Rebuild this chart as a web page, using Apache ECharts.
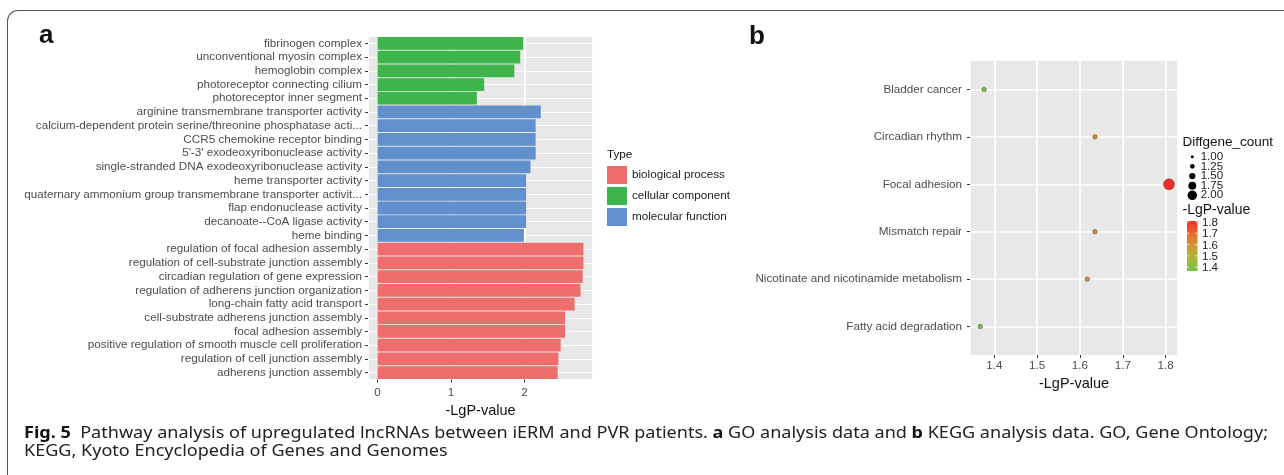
<!DOCTYPE html>
<html><head><meta charset="utf-8">
<script src="https://cdn.jsdelivr.net/npm/echarts@6/dist/echarts.min.js"></script>
<style>html,body{margin:0;padding:0;background:#fff;overflow:hidden;}#wrap{position:relative;width:1284px;height:475px;}#c{width:1284px;height:475px;}
#frame{position:absolute;left:6.5px;top:9.5px;width:1290px;height:500px;border-top:1.5px solid #555;border-left:1.5px solid #555;border-top-left-radius:11px;pointer-events:none;box-sizing:border-box;}</style>
</head><body><div id="wrap"><div id="c"></div><div id="frame"></div></div>
<script>
// ---------- Panel a: GO analysis ----------
const goTerms = [
  'fibrinogen complex',
  'unconventional myosin complex',
  'hemoglobin complex',
  'photoreceptor connecting cilium',
  'photoreceptor inner segment',
  'arginine transmembrane transporter activity',
  'calcium-dependent protein serine/threonine phosphatase acti...',
  'CCR5 chemokine receptor binding',
  "5'-3' exodeoxyribonuclease activity",
  'single-stranded DNA exodeoxyribonuclease activity',
  'heme transporter activity',
  'quaternary ammonium group transmembrane transporter activit...',
  'flap endonuclease activity',
  'decanoate--CoA ligase activity',
  'heme binding',
  'regulation of focal adhesion assembly',
  'regulation of cell-substrate junction assembly',
  'circadian regulation of gene expression',
  'regulation of adherens junction organization',
  'long-chain fatty acid transport',
  'cell-substrate adherens junction assembly',
  'focal adhesion assembly',
  'positive regulation of smooth muscle cell proliferation',
  'regulation of cell junction assembly',
  'adherens junction assembly'
];
const goValues = [1.98, 1.94, 1.86, 1.45, 1.35,
  2.22, 2.15, 2.15, 2.15, 2.08, 2.02, 2.02, 2.02, 2.02, 1.99,
  2.80, 2.80, 2.79, 2.76, 2.68, 2.55, 2.55, 2.49, 2.46, 2.45];
const goTypes = [
  'cellular component','cellular component','cellular component','cellular component','cellular component',
  'molecular function','molecular function','molecular function','molecular function','molecular function',
  'molecular function','molecular function','molecular function','molecular function','molecular function',
  'biological process','biological process','biological process','biological process','biological process',
  'biological process','biological process','biological process','biological process','biological process'
];
const typeNames = ['biological process','cellular component','molecular function'];
const typeColors = ['#EE6E6E','#3DB54A','#6190CC'];
const goTicks = [0, 1, 2];

// ---------- Panel b: KEGG analysis ----------
const keggTerms = ['Bladder cancer','Circadian rhythm','Focal adhesion','Mismatch repair',
  'Nicotinate and nicotinamide metabolism','Fatty acid degradation'];
const keggLgP = [1.376, 1.635, 1.808, 1.635, 1.617, 1.367];
const keggCount = [1, 1, 2, 1, 1, 1];
const keggTicks = [1.4, 1.5, 1.6, 1.7, 1.8];
const sizeLegendValues = [1.00, 1.25, 1.50, 1.75, 2.00];
const colorLegendTicks = [1.8, 1.7, 1.6, 1.5, 1.4];
const gradColors = ['#72C23E', '#A8B83A', '#D09A33', '#E76A2C', '#F22C26'];

// ---------- Caption ----------
const captionLine1 = [
  ['Fig. 5', true],
  ['  Pathway analysis of upregulated lncRNAs between iERM and PVR patients. ', false],
  ['a', true],
  [' GO analysis data and ', false],
  ['b', true],
  [' KEGG analysis data. GO, Gene Ontology;', false]
];
const captionLine2 = 'KEGG, Kyoto Encyclopedia of Genes and Genomes';

const FONT = 'Liberation Sans';
const AX = '#4D4D4D';
const BG = '#E8E8E8';

const chart = echarts.init(document.getElementById('c'), null, {renderer: 'canvas'});

const sizeFn = c => 3 + (c - 1) * 6.5;
const lgMin = Math.min(...keggLgP), lgMax = Math.max(...keggLgP);

// caption scale
const capFont = 'Noto Sans';
const capSize = 16;
const mctx = document.createElement('canvas').getContext('2d');
let capW = 0;
captionLine1.forEach(([t, b]) => {
  mctx.font = (b ? 'bold ' : '') + capSize + 'px "' + capFont + '"';
  capW += mctx.measureText(t).width;
});
const capScale = capW > 0 ? 1244 / capW : 1;
const capText1 = captionLine1.map(([t, b]) => b ? '{b|' + t + '}' : '{r|' + t + '}').join('');

const graphics = [];
graphics.push({type: 'text', x: 39, y: 36, style: {text: 'a', fontFamily: FONT, fontWeight: 'bold', fontSize: 26, fill: '#111', verticalAlign: 'middle'}});
graphics.push({type: 'text', x: 749, y: 37, style: {text: 'b', fontFamily: FONT, fontWeight: 'bold', fontSize: 26, fill: '#111', verticalAlign: 'middle'}});
graphics.push({type: 'text', x: 607, y: 155, style: {text: 'Type', fontFamily: FONT, fontSize: 11.7, fill: '#111', verticalAlign: 'middle'}});
// size legend
graphics.push({type: 'text', x: 1182.5, y: 142.6, style: {text: 'Diffgene_count', fontFamily: FONT, fontSize: 13.5, fill: '#111', verticalAlign: 'middle'}});
sizeLegendValues.forEach((v, i) => {
  const cy = 156.7 + i * 9.65;
  graphics.push({type: 'circle', shape: {cx: 1192.3, cy: cy, r: sizeFn(v) / 2}, style: {fill: '#000'}});
  graphics.push({type: 'text', x: 1200.7, y: cy, style: {text: v.toFixed(2), fontFamily: FONT, fontSize: 11.5, fill: '#222', verticalAlign: 'middle'}});
});
// colour legend
graphics.push({type: 'text', x: 1182.5, y: 210.4, style: {text: '-LgP-value', fontFamily: FONT, fontSize: 14, fill: '#111', verticalAlign: 'middle'}});
const cbTop = 221, cbH = 50, cbX = 1187, cbW = 10.5;
graphics.push({type: 'rect', shape: {x: cbX, y: cbTop, width: cbW, height: cbH},
  style: {fill: {type: 'linear', x: 0, y: 1, x2: 0, y2: 0,
    colorStops: gradColors.map((c, i) => ({offset: i / (gradColors.length - 1), color: c}))}}});
colorLegendTicks.forEach(v => {
  const y = cbTop + (lgMax - v) / (lgMax - lgMin) * cbH;
  graphics.push({type: 'line', shape: {x1: cbX, y1: y, x2: cbX + 2.2, y2: y}, style: {stroke: '#fff', lineWidth: 0.8}});
  graphics.push({type: 'line', shape: {x1: cbX + cbW - 2.2, y1: y, x2: cbX + cbW, y2: y}, style: {stroke: '#fff', lineWidth: 0.8}});
  graphics.push({type: 'text', x: 1202, y: y + 1, style: {text: v.toFixed(1), fontFamily: FONT, fontSize: 11.5, fill: '#222', verticalAlign: 'middle'}});
});
// caption
graphics.push({type: 'text', x: 24, y: 433, scaleX: capScale, style: {
  text: capText1, fontFamily: capFont, fontSize: capSize, fill: '#222', verticalAlign: 'middle',
  rich: {b: {fontFamily: capFont, fontSize: capSize, fontWeight: 'bold', fill: '#111'},
         r: {fontFamily: capFont, fontSize: capSize, fill: '#222'}}}});
graphics.push({type: 'text', x: 24, y: 451.5, scaleX: capScale, style: {
  text: captionLine2, fontFamily: capFont, fontSize: capSize, fill: '#222', verticalAlign: 'middle'}});

const isInt = v => Math.abs(v - Math.round(v)) < 1e-6;

const option = {
  animation: false,
  backgroundColor: '#fff',
  textStyle: {fontFamily: FONT},
  grid: [
    {left: 368, top: 36.5, width: 225, height: 343, show: true, backgroundColor: BG, borderWidth: 0, containLabel: false},
    {left: 970, top: 61, width: 208, height: 294, show: true, backgroundColor: BG, borderWidth: 0, containLabel: false}
  ],
  legend: {
    data: typeNames, orient: 'vertical', left: 607, top: 166, itemWidth: 20, itemHeight: 18, itemGap: 3,
    icon: 'rect', selectedMode: false, padding: 0,
    textStyle: {fontFamily: FONT, fontSize: 11.7, color: '#222'}
  },
  visualMap: {
    type: 'continuous', show: false, seriesIndex: 3, dimension: 0, min: lgMin, max: lgMax,
    inRange: {color: gradColors}
  },
  xAxis: [
    {gridIndex: 0, type: 'value', min: -0.13, max: 2.93, splitNumber: 6, position: 'bottom',
      axisLine: {show: false, onZero: false},
      axisTick: {show: true, length: 3, customValues: goTicks, lineStyle: {color: '#333', width: 1}},
      axisLabel: {customValues: goTicks, fontSize: 11.7, color: AX, margin: 7,
        formatter: v => (isInt(v) && goTicks.includes(Math.round(v))) ? String(Math.round(v)) : ''},
      splitLine: {show: true, lineStyle: {color: '#fff', width: 0.8}},
      name: '-LgP-value', nameLocation: 'middle', nameGap: 13,
      nameTextStyle: {fontSize: 14.5, color: '#111', fontFamily: FONT}},
    {gridIndex: 0, type: 'value', min: -0.13, max: 2.93, splitNumber: 3, position: 'bottom',
      axisLine: {show: false, onZero: false}, axisTick: {show: false}, axisLabel: {show: false},
      splitLine: {show: true, lineStyle: {color: '#fff', width: 1.6}}},
    {gridIndex: 1, type: 'value', min: 1.343, max: 1.829, splitNumber: 10, position: 'bottom',
      axisLine: {show: false, onZero: false},
      axisTick: {show: true, length: 3, customValues: keggTicks, lineStyle: {color: '#333', width: 1}},
      axisLabel: {customValues: keggTicks, fontSize: 11.7, color: AX, margin: 5,
        formatter: v => { const r = Math.round(v * 10) / 10; return (Math.abs(v - r) < 1e-6 && keggTicks.some(t => Math.abs(t - r) < 1e-6)) ? r.toFixed(1) : ''; }},
      splitLine: {show: true, lineStyle: {color: '#fff', width: 0.8}},
      name: '-LgP-value', nameLocation: 'middle', nameGap: 16,
      nameTextStyle: {fontSize: 14.5, color: '#111', fontFamily: FONT}},
    {gridIndex: 1, type: 'value', min: 1.343, max: 1.829, splitNumber: 5, position: 'bottom',
      axisLine: {show: false, onZero: false}, axisTick: {show: false}, axisLabel: {show: false},
      splitLine: {show: true, lineStyle: {color: '#fff', width: 1.6}}}
  ],
  yAxis: [
    {gridIndex: 0, type: 'category', data: goTerms, inverse: true, position: 'left',
      axisLine: {show: false, onZero: false},
      axisTick: {show: true, alignWithLabel: true, interval: 0, length: 3, lineStyle: {color: '#333', width: 1}},
      axisLabel: {interval: 0, fontSize: 11.7, color: AX, margin: 6, fontFamily: FONT, hideOverlap: false},
      splitLine: {show: false}},
    {gridIndex: 0, type: 'value', inverse: true, min: -0.5, max: goTerms.length - 0.5, splitNumber: goTerms.length, position: 'left',
      axisLine: {show: false, onZero: false}, axisTick: {show: false}, axisLabel: {show: false},
      splitLine: {show: true, lineStyle: {color: '#fff', width: 1.2}}},
    {gridIndex: 1, type: 'value', inverse: true, min: -0.6, max: keggTerms.length - 0.4, splitNumber: keggTerms.length, position: 'left',
      axisLine: {show: false, onZero: false},
      axisTick: {show: true, length: 3, customValues: keggTerms.map((_, i) => i), lineStyle: {color: '#333', width: 1}},
      axisLabel: {customValues: keggTerms.map((_, i) => i), fontSize: 11.7, color: AX, margin: 8,
        formatter: v => { const r = Math.round(v); return (isInt(v) && r >= 0 && r < keggTerms.length) ? keggTerms[r] : ''; }},
      splitLine: {show: true, lineStyle: {color: '#fff', width: 1.6}}}
  ],
  series: [
    ...typeNames.map((t, k) => ({
      name: t, type: 'bar', xAxisIndex: 0, yAxisIndex: 0, stack: 'go', barCategoryGap: '7%',
      itemStyle: {color: typeColors[k]},
      data: goValues.map((v, i) => goTypes[i] === t ? v : null)
    })),
    {
      name: 'KEGG', type: 'scatter', xAxisIndex: 2, yAxisIndex: 2,
      data: keggLgP.map((v, i) => [v, i, keggCount[i]]),
      symbolSize: d => sizeFn(d[2]) + 1.5,
      itemStyle: {borderColor: 'rgba(40,40,40,0.55)', borderWidth: 0.7, opacity: 1}
    }
  ],
  graphic: {elements: graphics}
};
chart.setOption(option);
</script>
</body></html>
